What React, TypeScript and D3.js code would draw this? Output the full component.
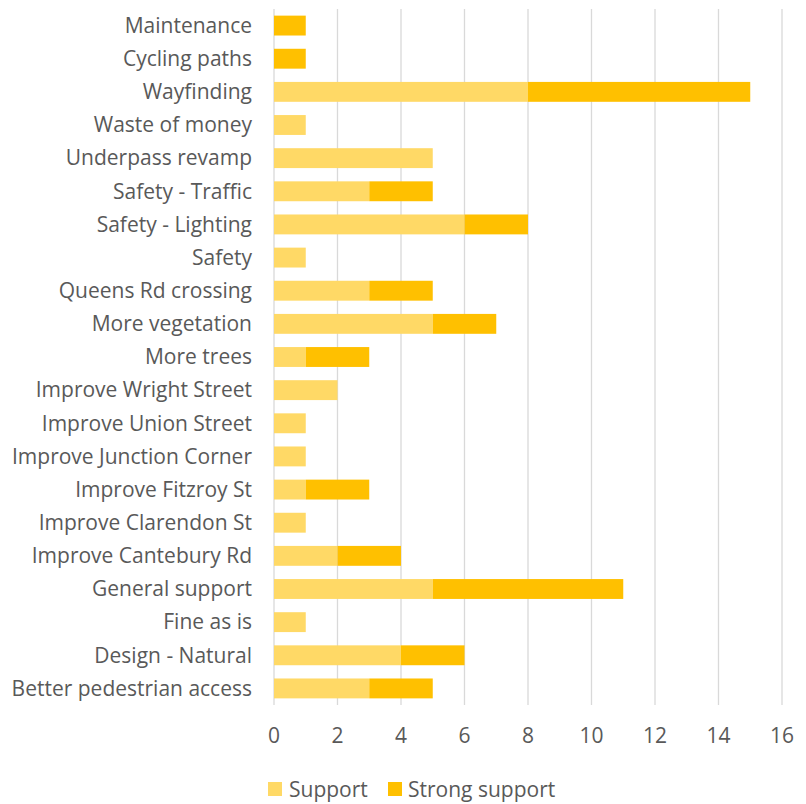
import React from "react";
import * as d3 from "d3";

const categories = [
  "Maintenance",
  "Cycling paths",
  "Wayfinding",
  "Waste of money",
  "Underpass revamp",
  "Safety - Traffic",
  "Safety - Lighting",
  "Safety",
  "Queens Rd crossing",
  "More vegetation",
  "More trees",
  "Improve Wright Street",
  "Improve Union Street",
  "Improve Junction Corner",
  "Improve Fitzroy St",
  "Improve Clarendon St",
  "Improve Cantebury Rd",
  "General support",
  "Fine as is",
  "Design - Natural",
  "Better pedestrian access",
];
const support = [0, 0, 8, 1, 5, 3, 6, 1, 3, 5, 1, 2, 1, 1, 1, 1, 2, 5, 1, 4, 3];
const strongSupport = [1, 1, 7, 0, 0, 2, 2, 0, 2, 2, 2, 0, 0, 0, 2, 0, 2, 6, 0, 2, 2];
const seriesNames = ["Support", "Strong support"];
const xTicks = [0, 2, 4, 6, 8, 10, 12, 14, 16];

const colors = ["#FFD966", "#FFC000"];
const FONT = "'Open Sans', sans-serif";

export default function App() {
  const W = 806, H = 804;
  const left = 274, right = 782, top = 9, bottom = 705;
  const x = d3.scaleLinear().domain([0, 16]).range([left, right]);
  const y = d3.scaleBand<string>().domain(categories).range([top, bottom]).paddingInner(0.4).paddingOuter(0.2);
  const rows = categories.map((c, i) => ({ c, s: support[i], ss: strongSupport[i] }));
  return (
    <svg width={W} height={H} style={{ position: "absolute", left: 0, top: 0, background: "#fff" }} fontFamily={FONT}>
      {xTicks.map((t) => (
        <line key={t} x1={x(t)} x2={x(t)} y1={top} y2={bottom} stroke="#D9D9D9" strokeWidth={1.3} />
      ))}
      {rows.map((r) => (
        <g key={r.c}>
          {r.s > 0 && (
            <rect x={x(0)} y={y(r.c)} width={x(r.s) - x(0)} height={y.bandwidth()} fill={colors[0]} />
          )}
          {r.ss > 0 && (
            <rect x={x(r.s)} y={y(r.c)} width={x(r.s + r.ss) - x(r.s)} height={y.bandwidth()} fill={colors[1]} />
          )}
          <text x={252} y={(y(r.c) as number) + y.bandwidth() / 2} dy="0.35em" textAnchor="end" fontSize={21} fill="#595959">
            {r.c}
          </text>
        </g>
      ))}
      {xTicks.map((t) => (
        <text key={t} x={x(t)} y={743} textAnchor="middle" fontSize={21} fill="#595959">
          {t}
        </text>
      ))}
      <g>
        <rect x={268} y={782} width={14} height={14} fill={colors[0]} />
        <text x={289} y={797} fontSize={21} fill="#595959">{seriesNames[0]}</text>
        <rect x={388} y={782} width={14} height={14} fill={colors[1]} />
        <text x={408} y={797} fontSize={21} fill="#595959">{seriesNames[1]}</text>
      </g>
    </svg>
  );
}
